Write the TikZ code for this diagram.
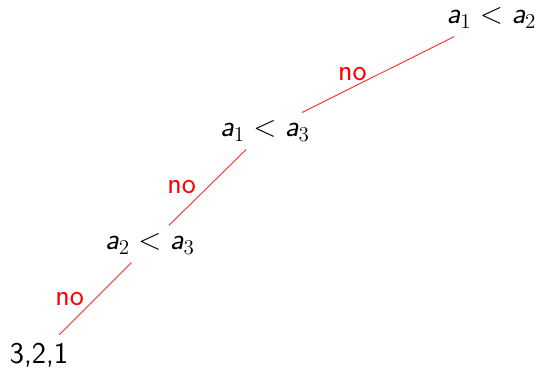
\documentclass[tikz,border=0pt]{standalone}
\usetikzlibrary{positioning}
\newcommand{\av}{\textsf{\itshape a}}

\begin{document}
\begin{tikzpicture}[
            tn/.style={inner sep=4.5pt, font=\fontsize{17.2}{20}\selectfont\sffamily},
            ed/.style={draw=red!85, line width=0.5pt},
            lb/.style={text=red, font=\fontsize{17}{20}\selectfont\sffamily}]
            \useasboundingbox (0,0) rectangle (10.82,7.42);
            \node[tn] (r)   at (9.83,7.06)  {$\av_1 < \av_2$};
            \node[tn] (m)   at (5.3,4.8)   {$\av_1 < \av_3$};
            \node[tn] (l)   at (3.0,2.54)  {$\av_2 < \av_3$};
            \node[tn] (leaf) at (0.78,0.32) {3,2,1};
            \draw[ed] (r)--(m) node[lb, midway, left=3pt] {no};
            \draw[ed] (m)--(l) node[lb, midway, left=3pt] {no};
            \draw[ed] (l)--(leaf) node[lb, midway, left=3pt] {no};
        \end{tikzpicture}
\end{document}
